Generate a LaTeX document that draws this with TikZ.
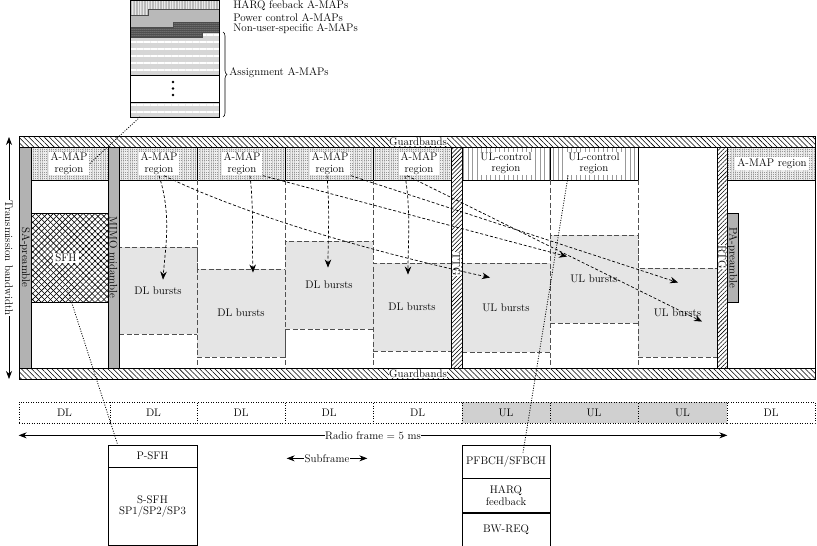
\documentclass[tikz,border=0pt]{standalone}
\usepackage{tikz}
\usetikzlibrary{arrows.meta, patterns.meta, decorations.pathreplacing, positioning, calc}
\definecolor{burstgray}{RGB}{229,229,229}
\definecolor{stripgray}{RGB}{178,178,178}
\definecolor{mapgray}{RGB}{150,150,150}
\definecolor{ulgray}{RGB}{208,208,208}
\definecolor{dashgray}{RGB}{80,80,80}

\tikzset{
  lbl/.style={inner sep=1pt},
  whitelbl/.style={fill=white, align=center, inner xsep=2pt, inner ysep=1pt},
  guard/.style={draw, pattern={Lines[angle=-45,distance=3.6pt,line width=0.55pt]}},
  gapstrip/.style={draw, pattern={Lines[angle=45,distance=3pt,line width=0.55pt]}},
  pream/.style={draw, fill=stripgray},
  mapreg/.style={draw, preaction={fill=mapgray}, pattern={Hatch[angle=0,distance=1.8pt,line width=0.5pt]}, pattern color=gray!15},
  ulctrl/.style={draw, pattern={Lines[angle=90,distance=4.5pt,line width=0.4pt]}, pattern color=gray!80},
  burst/.style={draw=dashgray, dash pattern=on 5pt off 2.5pt, line width=0.9pt, fill=burstgray, inner sep=0pt},
  divider/.style={draw=dashgray, dash pattern=on 5pt off 2.5pt, line width=0.9pt},
  maparrow/.style={dash pattern=on 3pt off 2pt, line width=0.7pt, -{Stealth[length=8pt,width=6.5pt]}},
  tiedot/.style={dash pattern=on 1pt off 1.5pt, line width=0.8pt},
  cell/.style={draw, dash pattern=on 1pt off 1.5pt, line width=0.7pt, minimum height=21pt, inner sep=0pt},
  stack/.style={draw, minimum width=88pt, inner sep=0pt, align=center},
}

\begin{document}
\begin{tikzpicture}[x=1pt, y=-1pt, line width=0.7pt, font=\fontsize{11}{11.5}\selectfont, >={Stealth[length=8pt,width=6pt]}]
\useasboundingbox (0,0) rectangle (817,546);

% A-MAP structure
\draw[draw=black!70, line width=0.4pt, preaction={fill=gray!18}, pattern={Lines[angle=90,distance=1.6pt,line width=0.4pt]}, pattern color=gray!55]
  (130,0) -- (219,0) -- (219,9) -- (148,9) -- (148,15) -- (130,15) -- cycle;
\draw[draw=black!70, line width=0.4pt, fill=gray!55]
  (130,15) -- (148,15) -- (148,9) -- (219,9) -- (219,22) -- (173,22) -- (173,27) -- (130,27) -- cycle;
\draw[draw=black!70, line width=0.4pt, preaction={fill=black!75}, pattern={Dots[distance=2pt,radius=0.5pt]}, pattern color=white]
  (130,27) -- (173,27) -- (173,22) -- (219,22) -- (219,32) -- (202,32) -- (202,37) -- (130,37) -- cycle;
\draw[draw=black!70, line width=0.4pt, preaction={fill=gray!32}, pattern={Lines[angle=0,distance=7pt,line width=1.2pt]}, pattern color=white]
  (130,37) -- (202,37) -- (202,32) -- (219,32) -- (219,75) -- (130,75) -- cycle;
\draw[preaction={fill=gray!32}, pattern={Lines[angle=0,distance=7pt,line width=1.2pt]}, pattern color=white]
  (130,102) rectangle (219,117);
\draw (130,0) rectangle (219,117);
\draw (130,75) -- (219,75);
\draw (130,102) -- (219,102);
\foreach \y in {82,88.5,95}
  \fill (173,\y) circle (1.4);
\draw[decorate, decoration={brace, amplitude=4pt}, line width=0.6pt] (223,32) -- (223,117);
\node[anchor=west, lbl] (assign) at (228,73) {Assignment A-MAPs};
\node[anchor=west, lbl] (harq) at (232,6) {HARQ feeback A-MAPs};
\node[anchor=west, lbl] (pctrl) at (232,17.5) {Power control A-MAPs};
\node[anchor=west, lbl] (nonuser) at (232,29) {Non-user-specific A-MAPs};
\coordinate (insetfoot) at (140,117);

% frame
\draw[guard] (19,136) rectangle (815,147);
\draw[guard] (19,368) rectangle (815,379);
\foreach \a/\b in {31/108,119/197,197/285,285/373,373/451,727/815}
  \draw[mapreg] (\a,147) rectangle (\b,180);
\foreach \a/\b in {462/550,550/638}
  \draw[ulctrl] (\a,147) rectangle (\b,180);
\foreach \x in {197,285,373,550,638}
  \draw[divider] (\x,180) -- (\x,368);

\node[burst, minimum width=78pt, minimum height=87pt] (dl1) at (158,290.5) {DL bursts};
\node[burst, minimum width=88pt, minimum height=88pt] (dl2) at (241,313) {DL bursts};
\node[burst, minimum width=88pt, minimum height=88pt] (dl3) at (329,285) {DL bursts};
\node[burst, minimum width=78pt, minimum height=88pt] (dl4) at (412,307) {DL bursts};
\node[burst, minimum width=88pt, minimum height=89pt] (ul1) at (506,307.5) {UL bursts};
\node[burst, minimum width=88pt, minimum height=88pt] (ul2) at (594,279) {UL bursts};
\node[burst, minimum width=79pt, minimum height=89pt] (ul3) at (677.5,312.5) {UL bursts};

\draw[pream] (19,147) rectangle (31,368);
\draw[pream] (108,147) rectangle (119,368);
\draw[gapstrip] (451,147) rectangle (462,368);
\draw[gapstrip] (717,147) rectangle (727,368);
\draw[pream] (727,213) rectangle (738,302);
\draw[preaction={pattern={Lines[angle=45,distance=4.2pt,line width=0.6pt]}}, pattern={Lines[angle=-45,distance=4.2pt,line width=0.6pt]}]
  (31,213) rectangle (108,302);
\coordinate (sfhbox) at (69.5,302);

\node[rotate=-90, inner sep=0pt] (sa) at (25,257.5) {SA-preamble};
\node[rotate=-90, inner sep=0pt] (mimo) at (113.5,257.5) {MIMO midamble};
\node[rotate=-90, inner sep=0pt] (pa) at (732.5,257.5) {PA-preamble};
\node[whitelbl, rotate=-90, inner sep=0.3pt] (ttg) at (456.5,264) {TTG};
\node[whitelbl, rotate=-90, inner sep=0.3pt] (rtg) at (722,257) {RTG};
\node[whitelbl] (sfh) at (66,258) {SFH};

\foreach \n/\x in {1/69,2/159,3/242,4/330,5/419}
  \node[whitelbl] (amap\n) at (\x,163.5) {A-MAP\\region};
\node[whitelbl] (amap6) at (772,163.5) {A-MAP region};
\node[whitelbl] (ulc1) at (506,163.5) {UL-control\\region};
\node[whitelbl] (ulc2) at (594,163.5) {UL-control\\region};
\node[whitelbl, inner sep=0.3pt] (gtop) at (418,141.5) {Guardbands};
\node[whitelbl, inner sep=0.3pt] (gbot) at (418,373.5) {Guardbands};

\draw[maparrow] (amap2.south) .. controls (172,215) and (165,250) .. ($(dl1.north)+(5,33)$);
\draw[maparrow] ([xshift=8pt]amap3.south) .. controls (254,210) and (252,245) .. ($(dl2.north)+(12,4)$);
\draw[maparrow] ([xshift=-3pt]amap4.south) .. controls (330,210) and (328,240) .. ($(dl3.north)+(-1,27)$);
\draw[maparrow] ([xshift=-14pt]amap5.south) .. controls (411,210) and (408,245) .. ($(dl4.north)+(-4,12)$);
\draw[maparrow] ([xshift=5pt]amap2.south) .. controls (260,222) and (400,258) .. ($(ul1.north)+(-16,15)$);
\draw[maparrow] (amap3.south east) -- ($(ul2.north)+(-27,22)$);
\draw[maparrow] (amap4.south east) -- ($(ul3.north)+(0.5,15)$);
\draw[maparrow] ([xshift=-12pt]amap5.south) -- ($(ul3.north)+(24.5,54)$);

\draw (19,136) rectangle (815,379);

\coordinate (tbtop) at (9,137);
\coordinate (tbbot) at (9,379);
\draw[<->] (tbtop) -- node[whitelbl, rotate=-90, inner sep=0.5pt] (tb) {Transmission bandwidth} (tbbot);

% subframes
\foreach \i/\a/\b/\t/\c in {1/19/110/DL/white, 2/110/197/DL/white, 3/197/285/DL/white, 4/285/373/DL/white, 5/373/462/DL/white, 6/462/550/UL/ulgray, 7/550/638/UL/ulgray, 8/638/727/UL/ulgray, 9/727/815/DL/white}
  \node[cell, fill=\c, minimum width=\b-\a] (cell\i) at ({(\a+\b)/2},412.5) {\t};

\coordinate (rfl) at ($(cell1.south west)+(0,12)$);
\coordinate (rfr) at ($(cell8.south east)+(0,12)$);
\draw[<->] (rfl) -- node[whitelbl, inner sep=0.5pt] (rf) {Radio frame = 5 ms} (rfr);
\coordinate (sfl) at ($(cell4.south west)+(2,35)$);
\coordinate (sfr) at ($(cell4.south east)+(-6,35)$);
\draw[<->] (sfl) -- node[whitelbl, inner sep=0.5pt] (sub) {Subframe} (sfr);

\node[stack, minimum width=89pt, minimum height=22pt] (psfh) at (152.5,456) {P-SFH};
\node[stack, minimum width=89pt, minimum height=78pt, below=0pt of psfh] (ssfh) {S-SFH\\SP1/SP2/SP3};
\node[stack, minimum height=33pt] (pfbch) at (506,461.5) {PFBCH/SFBCH};
\node[stack, minimum height=34pt, below=0pt of pfbch] (harqfb) {HARQ\\feedback};
\node[stack, minimum height=33pt, below=0pt of harqfb] (bwreq) {BW-REQ};

\draw[tiedot] (insetfoot) -- (amap1.east);
\draw[tiedot] ($(sfhbox)+(-2.5,-14)$) -- ($(psfh.north west)+(10,0)$);
\draw[tiedot] ([xshift=2pt]ulc2.south west) -- ($(pfbch.north)+(17,8)$);
\end{tikzpicture}
\end{document}
